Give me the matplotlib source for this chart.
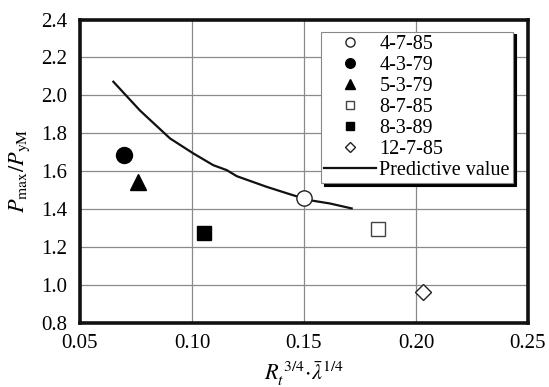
import numpy as np
import matplotlib
matplotlib.use("Agg")
from matplotlib import pyplot as plt

plt.rcParams['font.family'] = ['Liberation Serif', 'DejaVu Serif']
plt.rcParams['mathtext.fontset'] = 'stix'

# specimens (x = Rt^3/4 * lambda^1/4, y = Pmax/PyM)
labels = ["4-7-85", "4-3-79", "5-3-79", "8-7-85", "8-3-89", "12-7-85"]
x_vals = [0.150, 0.0696, 0.0757, 0.183, 0.1054, 0.2033]
y_vals = [1.457, 1.688, 1.544, 1.293, 1.277, 0.965]

# predictive curve
curve_x = [0.0649, 0.0768, 0.0902, 0.1006, 0.1095, 0.1155, 0.1200, 0.1333, 0.1450, 0.1527, 0.1616, 0.1713]
curve_y = [2.072, 1.920, 1.773, 1.694, 1.632, 1.606, 1.574, 1.518, 1.474, 1.447, 1.430, 1.404]

styles = [
    dict(marker='o', mfc='white', mec='#222222', ms=11),
    dict(marker='o', mfc='black', mec='black', ms=11.5),
    dict(marker='^', mfc='black', mec='black', ms=11),
    dict(marker='s', mfc='white', mec='#444444', ms=9.5),
    dict(marker='s', mfc='black', mec='black', ms=9.5),
    dict(marker='D', mfc='white', mec='#222222', ms=8.5),
]

fig = plt.figure(figsize=(5.49, 3.87), dpi=100)
ax = fig.add_axes([0.1457, 0.1654, 0.8160, 0.7842])

line_h, = ax.plot(curve_x, curve_y, color='#111111', lw=1.6, label='Predictive value', zorder=3)
handles = []
for lab, x, y, st in zip(labels, x_vals, y_vals, styles):
    h, = ax.plot([x], [y], ls='none', mew=1.0, label=lab, zorder=4, **st)
    handles.append(h)

ax.set_xlim(0.05, 0.25)
ax.set_ylim(0.8, 2.4)
ax.set_xticks(np.arange(0.05, 0.251, 0.05))
ax.set_yticks(np.arange(0.8, 2.41, 0.2))
ax.set_xticklabels(["0.05", "0.10", "0.15", "0.20", "0.25"])
ax.set_yticklabels(["%.1f" % v for v in np.arange(0.8, 2.41, 0.2)])
ax.tick_params(length=0, labelsize=15)
ax.tick_params(axis='x', pad=8)
ax.tick_params(axis='y', pad=9)
ax.grid(True, color='#8a8a8a', lw=0.9)
ax.set_axisbelow(True)
for s in ax.spines.values():
    s.set_linewidth(2.6)
    s.set_color('#111111')

ax.set_ylabel(r'$P_{\mathrm{max}}/P_{\mathrm{yM}}$', fontsize=16, labelpad=7)
ax.set_xlabel(r'$R_t^{\;3/4}\!\cdot\!\bar{\lambda}^{1/4}$', fontsize=16, labelpad=4)

leg = ax.legend(handles=handles + [line_h], loc='upper right',
                bbox_to_anchor=(0.9665, 0.96), borderaxespad=0,
                fontsize=14.5, markerscale=0.6, handlelength=2.6, handletextpad=0.15,
                labelspacing=0.1, borderpad=0.15,
                fancybox=False, framealpha=1, edgecolor='#888888',
                shadow={'color': 'black', 'alpha': 1})
leg.get_frame().set_linewidth(0.8)

fig.savefig("out.png", dpi=100)
